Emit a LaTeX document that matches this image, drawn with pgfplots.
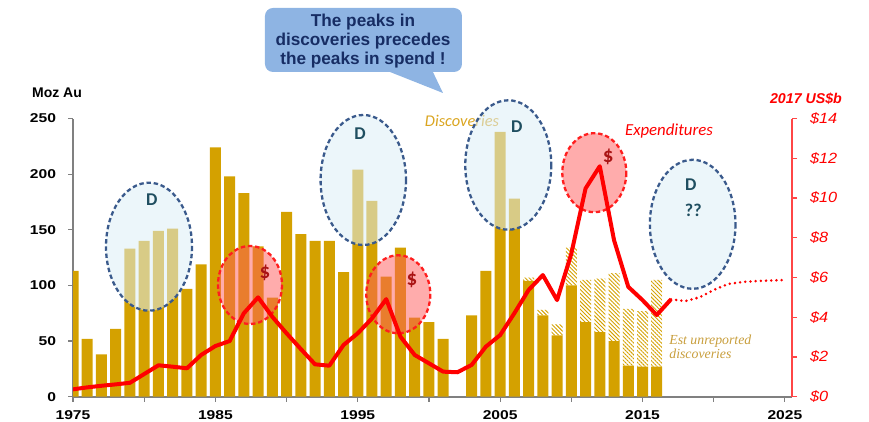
\documentclass[border=0pt]{standalone}
\usepackage{fontspec}
\setmainfont{Liberation Sans}
\newfontfamily\tickfont{Liberation Sans}[FakeStretch=1.22]
\newfontfamily\rtickfont{Liberation Sans}[FakeStretch=1.1]
\newfontfamily\calfont{Carlito}
\newfontfamily\seriffont{Liberation Serif}
\usepackage{pgfplots}
\usepackage{pgfplotstable}
\pgfplotsset{compat=1.18}
\usetikzlibrary{patterns.meta}

\definecolor{gold}{RGB}{212,161,0}
\definecolor{axgray}{RGB}{128,128,128}
\definecolor{axred}{RGB}{255,70,70}
\definecolor{dedge}{RGB}{58,90,140}
\definecolor{dfill}{RGB}{220,238,245}
\definecolor{sedge}{RGB}{255,30,30}
\definecolor{sfill}{RGB}{255,90,90}
\definecolor{dlab}{RGB}{31,78,96}
\definecolor{slab}{RGB}{170,20,20}
\definecolor{calfill}{RGB}{142,180,227}
\definecolor{navy}{RGB}{23,45,100}
\definecolor{txtgold}{RGB}{218,165,32}
\definecolor{sergold}{RGB}{200,158,60}

\pgfplotstableread{
year rep unrep
1975 113 0
1976 52 0
1977 38 0
1978 61 0
1979 133 0
1980 140 0
1981 149 0
1982 151 0
1983 97 0
1984 119 0
1985 224 0
1986 198 0
1987 183 0
1988 135 0
1989 89 0
1990 166 0
1991 146 0
1992 140 0
1993 140 0
1994 112 0
1995 204 0
1996 176 0
1997 108 0
1998 134 0
1999 71 0
2000 67 0
2001 52 0
2002 0 0
2003 73 0
2004 113 0
2005 238 0
2006 178 0
2007 104 3
2008 73 5
2009 55 10
2010 100 34
2011 67 38
2012 58 48
2013 50 61
2014 28 51
2015 27 50
2016 27 78
}\disc

\pgfplotstableread{
year spend
1975 0.37
1976 0.47
1977 0.55
1978 0.62
1979 0.70
1980 1.14
1981 1.58
1982 1.51
1983 1.43
1984 2.10
1985 2.55
1986 2.80
1987 4.20
1988 5.00
1989 4.02
1990 3.19
1991 2.40
1992 1.63
1993 1.56
1994 2.60
1995 3.19
1996 3.94
1997 4.91
1998 3.02
1999 2.10
2000 1.68
2001 1.26
2002 1.23
2003 1.60
2004 2.52
2005 3.10
2006 4.20
2007 5.37
2008 6.12
2009 4.86
2010 7.20
2011 10.48
2012 11.60
2013 7.88
2014 5.53
2015 4.86
2016 4.11
2017 4.90
}\spend

\pgfplotstableread{
year spend
2017 4.90
2018 4.81
2019 5.00
2020 5.37
2021 5.67
2022 5.77
2023 5.82
2024 5.85
2025 5.87
}\outlook

\begin{document}
\begin{tikzpicture}
\useasboundingbox (-36.5bp,-12.65bp) rectangle (398bp,198.35bp);

\begin{axis}[
  at={(0,0)}, anchor=south west, scale only axis,
  width=359.5bp, height=139.1bp,
  xmin=1975, xmax=2025.5, ymin=0, ymax=250,
  axis x line*=bottom, axis y line*=left,
  axis line style={-, draw=axgray, line width=0.8bp},
  xtick={1975,1980,...,2025},
  xticklabels={1975,,1985,,1995,,2005,,2015,,2025},
  ytick={0,50,...,250},
  tick align=outside, major tick length=2.5bp,
  tick style={axgray, line width=0.6bp},
  /pgf/number format/assume math mode=true,
  tick label style={font=\tickfont\bfseries\fontsize{6.4bp}{7bp}\selectfont, text=black},
  yticklabel style={xshift=-2.5bp},
  xticklabel style={yshift=-1bp},
  ybar stacked, bar width=5.5bp,
]
\addplot[fill=gold, draw=none] table[x=year,y=rep]{\disc};
\addplot[draw=none, pattern={Lines[angle=-45,distance=1.4bp,line width=0.45bp]}, pattern color=gold] table[x=year,y=unrep]{\disc};
\end{axis}

\begin{scope}[x=0.5bp,y=-0.5bp,shift={(-36.5bp,198.35bp)}]
  % texts under the ellipses
  \node[font=\calfont\itshape\fontsize{8.2bp}{9bp}\selectfont, text=txtgold] at (462,121) {Discoveries};
  \node[font=\calfont\itshape\fontsize{8.4bp}{9bp}\selectfont, text=red] at (669,131) {Expenditures};
  \node[font=\seriffont\itshape\fontsize{6.9bp}{6.7bp}\selectfont, text=sergold, align=left, anchor=west, inner sep=0pt] at (669,346.7) {Est unreported\\discoveries};
  \node[font=\bfseries\fontsize{7bp}{8bp}\selectfont] at (57,93) {Moz Au};
  \node[font=\bfseries\itshape\fontsize{7.1bp}{8bp}\selectfont, text=red] at (806,98.3) {2017 US\$b};

  % ellipses
  \begin{scope}[line width=1.15bp, dash pattern=on 2.2bp off 1.4bp]
    \filldraw[draw=dedge, fill=dfill, fill opacity=0.55] (149,246.7) ellipse [x radius=43, y radius=64];
    \filldraw[draw=dedge, fill=dfill, fill opacity=0.55] (363.3,180) ellipse [x radius=42.7, y radius=65];
    \filldraw[draw=dedge, fill=dfill, fill opacity=0.55] (508.3,165) ellipse [x radius=43, y radius=64.7];
    \filldraw[draw=dedge, fill=dfill, fill opacity=0.55] (692.7,224.3) ellipse [x radius=42.8, y radius=64.5];
    \filldraw[draw=sedge, fill=sfill, fill opacity=0.5] (250,285) ellipse [x radius=32, y radius=39];
    \filldraw[draw=sedge, fill=sfill, fill opacity=0.5] (398.3,294.3) ellipse [x radius=32, y radius=39];
    \filldraw[draw=sedge, fill=sfill, fill opacity=0.5] (594.3,172.7) ellipse [x radius=32, y radius=39.5];
  \end{scope}
  \begin{scope}[font=\calfont\bfseries\fontsize{9bp}{10bp}\selectfont, text=dlab]
    \node at (151.7,200) {D};
    \node at (360,133.3) {D};
    \node at (516.7,126.7) {D};
    \node at (690.7,185) {D};
    \node at (693.3,210) {??};
  \end{scope}
  \begin{scope}[font=\calfont\bfseries\fontsize{10.5bp}{11bp}\selectfont, text=slab]
    \node at (265,273.3) {\$};
    \node at (412,280) {\$};
    \node at (608.3,156.7) {\$};
  \end{scope}

  % callout
  \fill[calfill, rounded corners=4bp] (265,8) rectangle (462,72);
  \fill[calfill] (385,70) -- (432,70) -- (443,93) -- cycle;
  \node[align=center, font=\bfseries\fontsize{8.6bp}{9.6bp}\selectfont, text=navy] at (363,41) {The peaks in\\discoveries precedes\\the peaks in spend !};
\end{scope}

\begin{axis}[
  at={(0,0)}, anchor=south west, scale only axis,
  width=359.5bp, height=139.1bp,
  xmin=1975, xmax=2025.5, ymin=0, ymax=14,
  axis y line*=right, axis x line=none,
  y axis line style={-, draw=axred, line width=0.8bp},
  ytick={0,2,...,14},
  yticklabels={\$0,\$2,\$4,\$6,\$8,\$10,\$12,\$14},
  tick align=outside, major tick length=2.5bp,
  ytick style={axred, line width=0.6bp},
  yticklabel style={font=\rtickfont\itshape\fontsize{7.4bp}{8bp}\selectfont, text=red, xshift=3bp},
]
\addplot[red, line width=2bp, mark=none, line join=round] table[x=year,y=spend]{\spend};
\addplot[red, line width=1.4bp, mark=none, line cap=round, dash pattern=on 0bp off 2.6bp] table[x=year,y=spend]{\outlook};
\end{axis}
\end{tikzpicture}
\end{document}
